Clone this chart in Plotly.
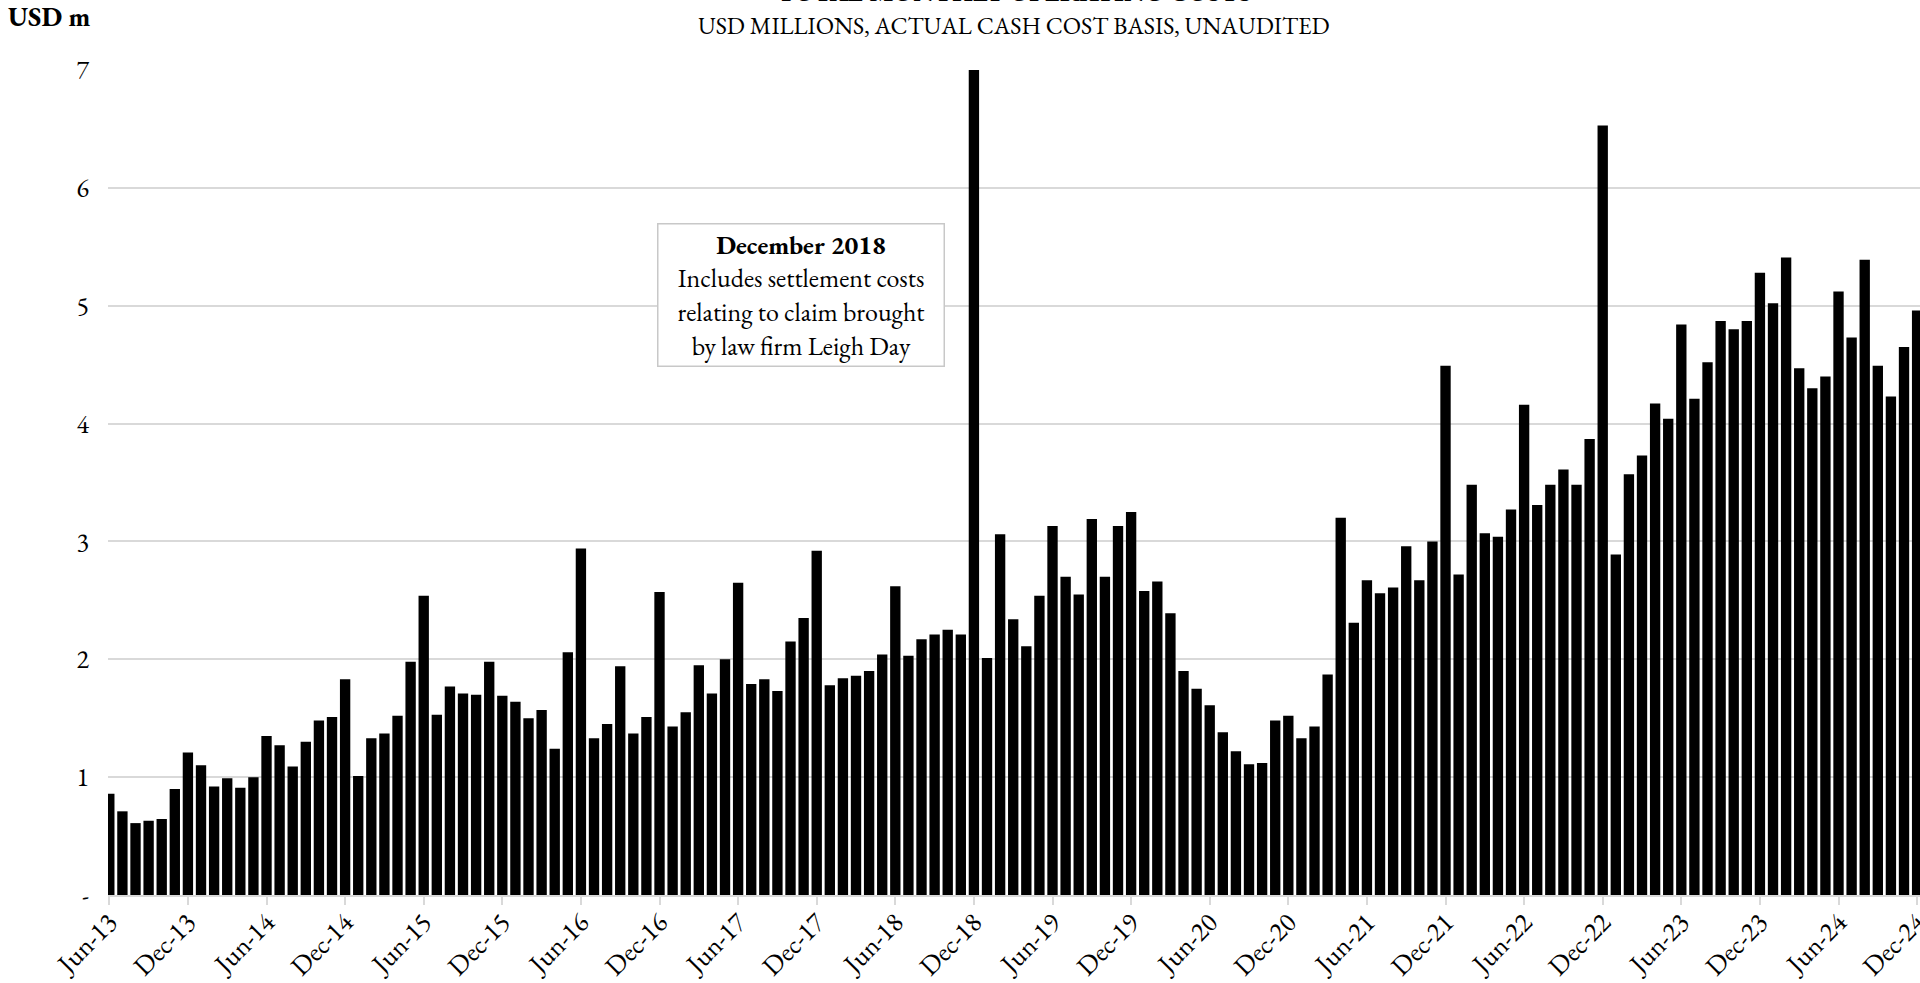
import plotly.graph_objects as go
import pandas as pd

# Monthly operating costs, USD m (Jun-2013 .. Dec-2024)
v2013 = [0.86, 0.71, 0.61, 0.63, 0.645, 0.90, 1.21]
v2014 = [1.10, 0.92, 0.99, 0.91, 1.00, 1.35, 1.27, 1.09, 1.30, 1.48, 1.51, 1.83]
v2015 = [1.01, 1.33, 1.37, 1.52, 1.98, 2.54, 1.53, 1.77, 1.71, 1.70, 1.98, 1.69]
v2016 = [1.64, 1.50, 1.57, 1.24, 2.06, 2.94, 1.33, 1.45, 1.94, 1.37, 1.51, 2.57]
v2017 = [1.43, 1.55, 1.95, 1.71, 2.00, 2.65, 1.79, 1.83, 1.73, 2.15, 2.35, 2.92]
v2018 = [1.78, 1.84, 1.86, 1.90, 2.04, 2.62, 2.03, 2.17, 2.21, 2.25, 2.21, 7.50]
v2019 = [2.01, 3.06, 2.34, 2.11, 2.54, 3.13, 2.70, 2.55, 3.19, 2.70, 3.13, 3.25]
v2020 = [2.58, 2.66, 2.39, 1.90, 1.75, 1.61, 1.38, 1.22, 1.11, 1.12, 1.48, 1.52]
v2021 = [1.33, 1.43, 1.87, 3.20, 2.31, 2.67, 2.56, 2.61, 2.96, 2.67, 3.00, 4.49]
v2022 = [2.72, 3.48, 3.07, 3.04, 3.27, 4.16, 3.31, 3.48, 3.61, 3.48, 3.87, 6.53]
v2023 = [2.89, 3.57, 3.73, 4.17, 4.04, 4.84, 4.21, 4.52, 4.87, 4.80, 4.87, 5.28]
v2024 = [5.02, 5.41, 4.47, 4.30, 4.40, 5.12, 4.73, 5.39, 4.49, 4.23, 4.65, 4.96]

values = v2013 + v2014 + v2015 + v2016 + v2017 + v2018 + v2019 + v2020 + v2021 + v2022 + v2023 + v2024
months = pd.date_range("2013-06-01", periods=len(values), freq="MS")
month_labels = [m.strftime("%b-%y") for m in months]
x_idx = list(range(len(values)))

tick_idx = [i for i, m in enumerate(months) if m.month in (6, 12)]
tick_text = [month_labels[i] for i in tick_idx]

y_tickvals = [0, 1, 2, 3, 4, 5, 6, 7]
y_ticktext = ["-", "1", "2", "3", "4", "5", "6", "7"]

FONT = "EB Garamond, Garamond, 'Liberation Serif', 'Times New Roman', serif"

fig = go.Figure()
fig.add_trace(go.Bar(
    x=x_idx, y=values, customdata=month_labels,
    marker=dict(color="#000000", line=dict(width=0)),
    hovertemplate="%{customdata}: %{y:.2f}<extra></extra>",
))

W, H = 1920, 983
# plot area on page: left 108, right 1920, top 70, bottom 895
ml, mr, mt, mb = 108, 0, 70, H - 895

fig.update_layout(
    width=W, height=H,
    margin=dict(l=ml, r=mr, t=mt, b=mb, autoexpand=False),
    plot_bgcolor="white", paper_bgcolor="white",
    bargap=0.21,
    showlegend=False,
    font=dict(family=FONT, color="#000000", size=24),
    xaxis=dict(
        range=[-0.1, len(values) - 1 + 0.22],
        tickmode="array", tickvals=tick_idx, ticktext=tick_text,
        tickangle=-45, tickfont=dict(size=27, family=FONT),
        showgrid=False, zeroline=False, automargin=False,
        showline=True, linecolor="#d9d9d9", linewidth=1.5,
        ticks="outside", ticklen=8, tickcolor="#d9d9d9", tickwidth=1.5,
        ticklabelstandoff=-9, ticklabeloverflow="allow",
    ),
    yaxis=dict(
        range=[0, 7],
        tickmode="array", tickvals=y_tickvals, ticktext=y_ticktext,
        tickfont=dict(size=26, family=FONT),
        showgrid=True, gridcolor="#d9d9d9", gridwidth=1.5,
        zeroline=False, showline=False, automargin=False,
        ticklabelstandoff=18,
    ),
)

ph = H - mt - mb
pw = W - ml - mr

def py(page_y):
    return (H - mb - page_y) / ph

def px(page_x):
    return (page_x - ml) / pw

annotations = [
    dict(text="<b>TOTAL MONTHLY OPERATING COSTS</b>", xref="paper", yref="paper",
         x=px(1014), y=py(11), xanchor="center", yanchor="bottom", showarrow=False,
         font=dict(size=26, family=FONT)),
    dict(text="USD MILLIONS, ACTUAL CASH COST BASIS, UNAUDITED", xref="paper", yref="paper",
         x=px(1014), y=py(25), xanchor="center", yanchor="middle", showarrow=False,
         font=dict(size=24, family=FONT)),
    dict(text="<b>USD m</b>", xref="paper", yref="paper",
         x=px(6), y=py(16), xanchor="left", yanchor="middle",
         showarrow=False, font=dict(size=27, family=FONT)),
    dict(text="<b>December 2018</b><br>Includes settlement costs<br>relating to claim brought<br>by law firm Leigh Day",
         xref="x", yref="y", x=52.8, y=5.095, xanchor="center", yanchor="middle",
         showarrow=False, align="center",
         font=dict(size=26, family=FONT),
         bgcolor="white", bordercolor="#c8c8c8", borderwidth=1.5,
         width=279, borderpad=3),
]
fig.update_layout(annotations=annotations)

fig.write_html(
    "out.html",
    config={"displayModeBar": False},
    post_script="document.body.style.margin='0';document.body.style.overflow='hidden';",
)
